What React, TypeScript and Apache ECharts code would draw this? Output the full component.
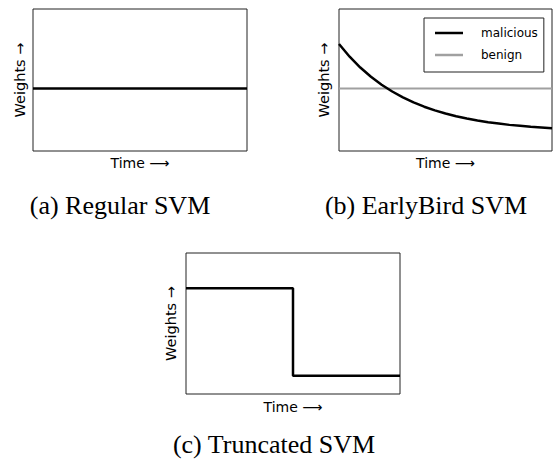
import React, { useEffect, useRef } from "react";
import * as echarts from "echarts";

// (a) Regular SVM
const regularTime = [0, 1];
const regularWeights = [0.44, 0.44];
// (b) EarlyBird SVM
const earlyTime = [
  0, 0.05, 0.1, 0.15, 0.2, 0.25, 0.3, 0.35, 0.4, 0.45, 0.5,
  0.55, 0.6, 0.65, 0.7, 0.75, 0.8, 0.85, 0.9, 0.95, 1,
];
const maliciousWeights = [
  0.754, 0.664, 0.588, 0.523, 0.467, 0.419, 0.378, 0.342, 0.312, 0.286, 0.264,
  0.245, 0.229, 0.215, 0.203, 0.193, 0.184, 0.177, 0.17, 0.165, 0.16,
];
const benignTime = [0, 1];
const benignWeights = [0.44, 0.44];
// (c) Truncated SVM
const truncTime = [0, 0.5, 0.5, 1];
const truncWeights = [0.75, 0.75, 0.13, 0.13];

const captions = ["(a) Regular SVM", "(b) EarlyBird SVM", "(c) Truncated SVM"];
const xLabel = "Time \u27F6";
const yLabel = "Weights \u2192";
const seriesNames = ["malicious", "benign"];

const zip = (xs: number[], ys: number[]) => xs.map((x, i) => [x, ys[i]]);

const SANS = "DejaVu Sans";
const SERIF = "Liberation Serif";

export default function App() {
  const ref = useRef<HTMLDivElement>(null);
  useEffect(() => {
    if (!ref.current) return;
    const chart = echarts.init(ref.current, undefined, { renderer: "svg" });
    const gridBase = { show: true, borderColor: "#222", borderWidth: 1, backgroundColor: "#fff" };
    const grids = [
      { ...gridBase, left: 33, top: 9, width: 214, height: 142 },
      { ...gridBase, left: 339, top: 9, width: 213, height: 142 },
      { ...gridBase, left: 186, top: 253, width: 214, height: 141 },
    ];
    const xGaps = [5, 5, 6];
    const yGaps = [6, 8, 8];
    const hidden = {
      axisLine: { show: false },
      axisTick: { show: false },
      axisLabel: { show: false },
      splitLine: { show: false },
    };
    const xAxes = grids.map((_, i) => ({
      type: "value",
      gridIndex: i,
      min: 0,
      max: 1,
      name: xLabel,
      nameLocation: "middle",
      nameGap: xGaps[i],
      nameTextStyle: { fontFamily: SANS, fontSize: 14, color: "#000" },
      ...hidden,
    }));
    const yAxes = grids.map((_, i) => ({
      type: "value",
      gridIndex: i,
      min: 0,
      max: 1,
      name: yLabel,
      nameLocation: "middle",
      nameGap: yGaps[i],
      nameTextStyle: { fontFamily: SANS, fontSize: 14.5, color: "#000" },
      ...hidden,
    }));
    const lineBase = {
      type: "line",
      symbol: "none",
      showSymbol: false,
      z: 5,
    };
    const captionPos = [
      [120, 205],
      [426, 205],
      [274, 444],
    ];
    chart.setOption({
      animation: false,
      backgroundColor: "#fff",
      grid: grids,
      xAxis: xAxes,
      yAxis: yAxes,
      legend: {
        show: true,
        data: seriesNames,
        orient: "vertical",
        left: 424,
        top: 18,
        padding: [8, 6, 10, 11],
        icon: "rect",
        itemWidth: 28,
        itemHeight: 2.5,
        itemGap: 8,
        borderColor: "#222",
        borderWidth: 1,
        backgroundColor: "#fff",
        textStyle: {
          fontFamily: SANS,
          fontSize: 12,
          color: "#000",
          lineHeight: 14,
          padding: [0, 0, 0, 13],
        },
      },
      series: [
        {
          ...lineBase,
          name: "regular",
          xAxisIndex: 0,
          yAxisIndex: 0,
          data: zip(regularTime, regularWeights),
          lineStyle: { color: "#000", width: 2.5 },
        },
        {
          ...lineBase,
          name: seriesNames[0],
          xAxisIndex: 1,
          yAxisIndex: 1,
          data: zip(earlyTime, maliciousWeights),
          itemStyle: { color: "#000" },
          lineStyle: { color: "#000", width: 2.5, join: "round" },
          z: 6,
        },
        {
          ...lineBase,
          name: seriesNames[1],
          xAxisIndex: 1,
          yAxisIndex: 1,
          data: zip(benignTime, benignWeights),
          itemStyle: { color: "#a0a0a0" },
          lineStyle: { color: "#a0a0a0", width: 2.2 },
        },
        {
          ...lineBase,
          name: "truncated",
          xAxisIndex: 2,
          yAxisIndex: 2,
          data: zip(truncTime, truncWeights),
          lineStyle: { color: "#000", width: 2.5 },
        },
      ],
      graphic: captions.map((c, i) => ({
        type: "text",
        x: captionPos[i][0],
        y: captionPos[i][1],
        style: {
          text: c,
          fontFamily: SERIF,
          fontSize: 26,
          lineHeight: 26,
          fill: "#000",
          textAlign: "center",
          textVerticalAlign: "middle",
        },
      })),
    });
    return () => chart.dispose();
  }, []);
  return (
    <div
      ref={ref}
      style={{ position: "fixed", left: 0, top: 0, width: 553, height: 460 }}
    />
  );
}
